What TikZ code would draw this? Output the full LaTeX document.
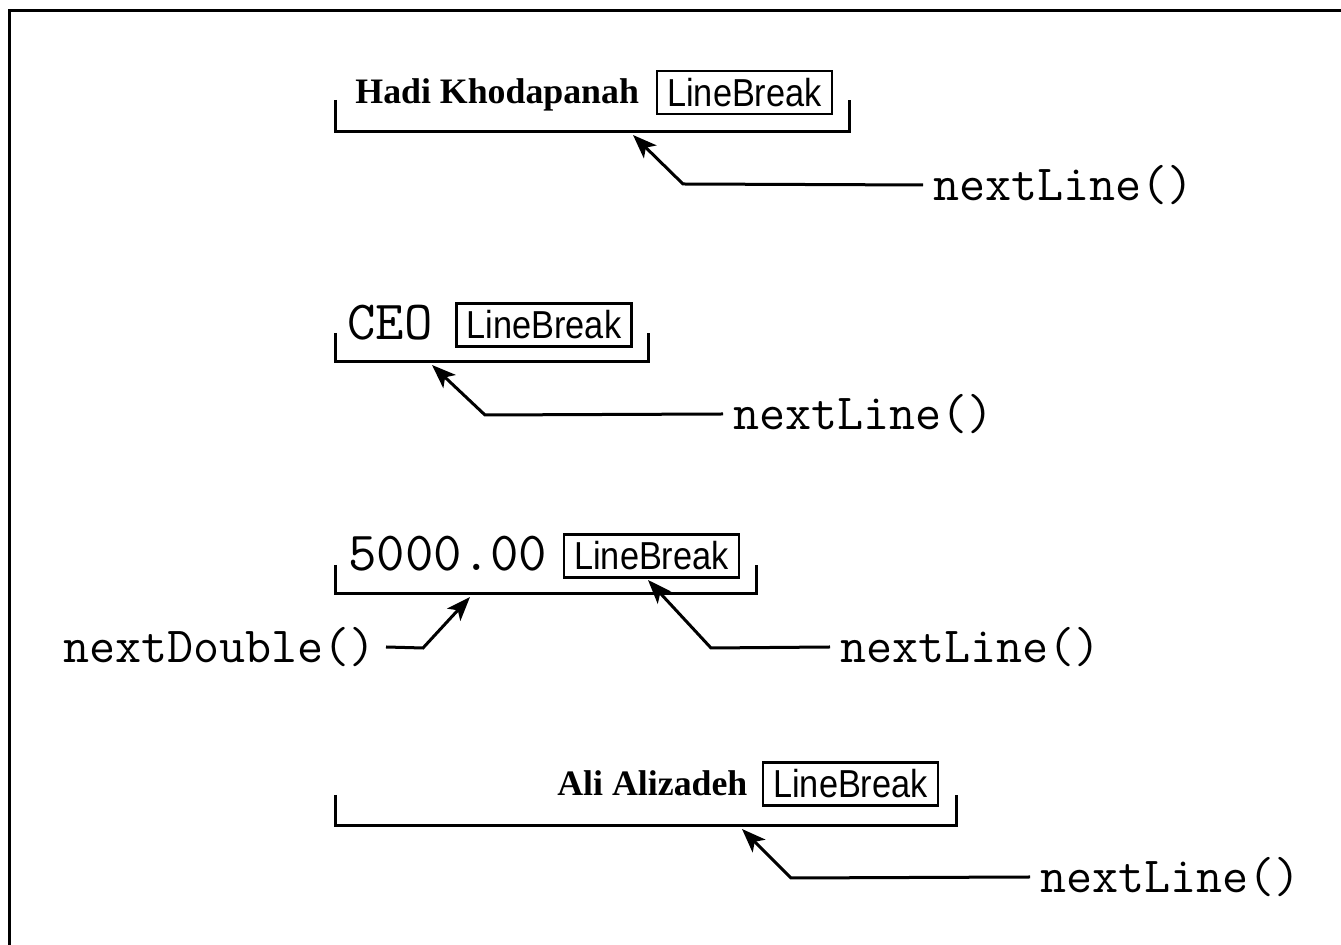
\documentclass[tikz,border=0pt]{standalone}
\usepackage{fontspec}
\usetikzlibrary{arrows.meta}
\newfontfamily\namefont{Liberation Serif}
\newfontfamily\lbfont{Liberation Sans}[FakeStretch=0.88]
\begin{document}
\begin{tikzpicture}[x=0.5pt,y=-0.5pt,
  frame/.style={line width=1.5pt},
  bracketline/.style={line width=1.5pt},
  lbbox/.style={draw, line width=1.4pt, inner sep=0pt, minimum width=87.5pt, minimum height=21.5pt,
    font=\lbfont\fontsize{19.5}{21}\selectfont},
  nametext/.style={inner sep=0pt, anchor=base west, font=\namefont\bfseries\fontsize{17.9}{20}\selectfont},
  valtext/.style={inner sep=0pt, anchor=base west, font=\ttfamily\fontsize{27.6}{30}\selectfont},
  calltext/.style={inner ysep=0pt, inner xsep=0pt, outer xsep=5pt, font=\ttfamily\fontsize{25.3}{28}\selectfont},
  callarrow/.style={line width=1.5pt, -{Stealth[length=12pt,width=9pt,inset=3pt]}},
]
\useasboundingbox (0,0) rectangle (1341,945);
% frame (only left and top edges visible)
\draw[frame] (9,945) -- (9,11) -- (1341,11);

% ---------- group 1 ----------
\node[nametext] (n1) at (355,104) {Hadi Khodapanah};
\node[lbbox] (b1) at (744.5,92.5) {LineBreak};
\draw[bracketline] (335,100) -- (335,132) -- (849,132) -- (849,100);
\node[calltext, anchor=west] (c1) at (923,185) {nextLine()};
\coordinate (t1) at (633,135);
\coordinate (e1) at (683,184);
\draw[callarrow] (c1.west) -- (e1) -- (t1);

% ---------- group 2 ----------
\node[valtext] (n2) at (347,340) {CEO};
\node[lbbox] (b2) at (544,325) {LineBreak};
\draw[bracketline] (335,333) -- (335,362) -- (648,362) -- (648,333);
\node[calltext, anchor=west] (c2) at (723,414) {nextLine()};
\coordinate (t2) at (432,365);
\coordinate (e2) at (485,415);
\draw[callarrow] (c2.west) -- (e2) -- (t2);

% ---------- group 3 ----------
\node[valtext] (n3) at (348,571) {5000.00};
\node[lbbox] (b3) at (651.5,556) {LineBreak};
\draw[bracketline] (335,565) -- (335,594) -- (756,594) -- (756,565);
\node[calltext, anchor=east] (c3a) at (386,647) {nextDouble()};
\coordinate (t3a) at (470,597);
\coordinate (e3a) at (423,648);
\draw[callarrow] (c3a.east) -- (e3a) -- (t3a);
\node[calltext, anchor=west] (c3b) at (830,647) {nextLine()};
\coordinate (t3b) at (648,580);
\coordinate (e3b) at (711,648);
\draw[callarrow] (c3b.west) -- (e3b) -- (t3b);

% ---------- group 4 ----------
\node[nametext] (n4) at (557,796) {Ali Alizadeh};
\node[lbbox] (b4) at (850.5,784) {LineBreak};
\draw[bracketline] (335,795) -- (335,826) -- (956,826) -- (956,795);
\node[calltext, anchor=west] (c4) at (1030,877) {nextLine()};
\coordinate (t4) at (742,829);
\coordinate (e4) at (791,878);
\draw[callarrow] (c4.west) -- (e4) -- (t4);
\end{tikzpicture}
\end{document}
